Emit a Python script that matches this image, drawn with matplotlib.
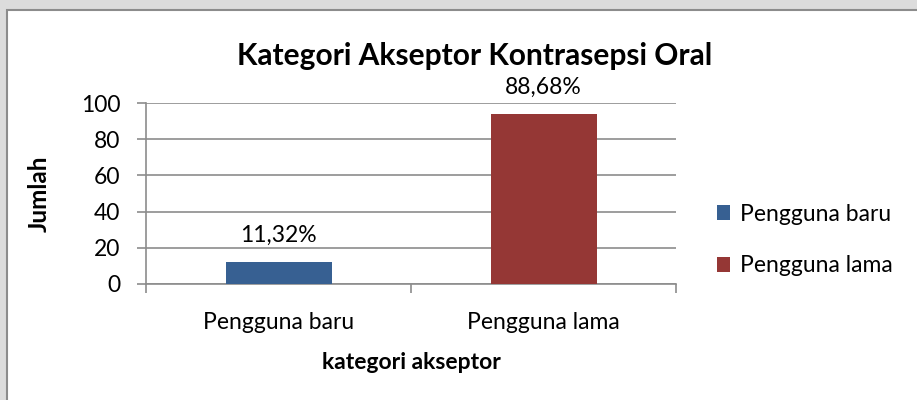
import matplotlib
matplotlib.use('Agg')
import matplotlib.pyplot as plt
from matplotlib.patches import Rectangle, Patch

plt.rcParams['font.family'] = ['Lato', 'DejaVu Sans']

categories = ['Pengguna baru', 'Pengguna lama']
values = [12, 94]
labels = ['11,32%', '88,68%']
colors = ['#376092', '#953735']
y_ticks = [0, 20, 40, 60, 80, 100]

fig = plt.figure(figsize=(9.17, 4.0), dpi=100)
fig.patch.set_facecolor('#dcdcdc')

# chart area frame (white with gray border), behind the axes
fig.patches.append(Rectangle((7 / 917, -0.05), 1.1, 1 - 10 / 400 + 0.05,
                             transform=fig.transFigure, facecolor='white',
                             edgecolor='#8c8c8c', linewidth=1.5, zorder=-5))

ax = fig.add_axes([146 / 917, 1 - 284 / 400, 530 / 917, 181 / 400])
ax.set_facecolor('none')

x = range(len(categories))
ax.bar(x, values, width=0.4, color=colors, zorder=3)
for xi, v, lab in zip(x, values, labels):
    ax.text(xi, v + 9, lab, ha='center', va='bottom', fontsize=16.5)

ax.set_xlim(-0.5, 1.5)
ax.set_ylim(0, 100)
ax.set_yticks(y_ticks)
ax.set_yticklabels([str(t) for t in y_ticks], fontsize=16.5)
ax.yaxis.grid(True, color='#8c8c8c', linewidth=1.2, zorder=0)

ax.set_xticks(list(x))
ax.set_xticklabels(categories, fontsize=16.5)
ax.tick_params(axis='x', length=0, pad=20)
ax.set_xticks([-0.5, 0.5, 1.5], minor=True)
ax.tick_params(axis='x', which='minor', length=6.5, color='#8c8c8c', width=1.2)
ax.tick_params(axis='y', length=6.5, color='#8c8c8c', width=1.2, pad=12)

for s in ['top', 'right']:
    ax.spines[s].set_visible(False)
for s in ['left', 'bottom']:
    ax.spines[s].set_color('#8c8c8c')
    ax.spines[s].set_linewidth(1.2)

ax.set_xlabel('kategori akseptor', fontsize=16.5, fontweight='bold', labelpad=14)
ax.set_ylabel('Jumlah', fontsize=17.5, fontweight='bold', labelpad=22)

fig.text(475 / 917, 1 - 56 / 400, 'Kategori Akseptor Kontrasepsi Oral',
         ha='center', va='center', fontsize=21.5, fontweight='bold')

handles = [Patch(facecolor=c, label=n) for c, n in zip(colors, categories)]
fig.legend(handles=handles, loc='center left', bbox_to_anchor=(696 / 917, 1 - 240 / 400),
           frameon=False, fontsize=16.5, handlelength=0.6, handleheight=0.6,
           handletextpad=0.4, labelspacing=1.35)

fig.savefig('out.png', dpi=100, facecolor=fig.get_facecolor())
